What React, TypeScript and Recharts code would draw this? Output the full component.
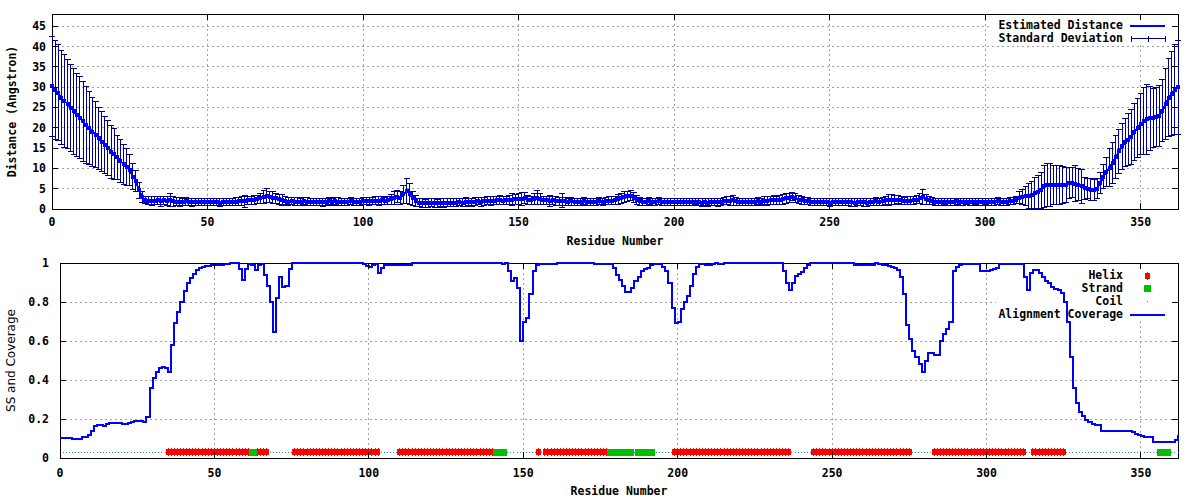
import React from "react";
import {
  ComposedChart,
  Line,
  Scatter,
  XAxis,
  YAxis,
  CartesianGrid,
  ErrorBar,
  Legend,
  ReferenceArea,
} from "recharts";

// estimated distance per residue (Angstrom)
const distance = [
  30.2, 29.3, 28.6, 27.4, 26.6, 25.8, 24.8, 24.1, 23.2, 22.5,
  21.6, 20.7, 19.9, 19.0, 18.3, 17.4, 16.6, 15.7, 15.0, 14.1,
  13.5, 12.7, 11.9, 11.0, 10.3, 9.5, 8.0, 6.8, 4.6, 3.0,
  2.3, 2.0, 1.9, 2.0, 2.1, 1.9, 2.2, 2.0, 2.1, 1.9,
  1.8, 1.8, 1.7, 1.9, 1.8, 1.7, 1.8, 1.8, 1.7, 1.8,
  1.8, 1.7, 1.8, 1.7, 1.6, 1.7, 1.7, 1.8, 1.7, 1.8,
  1.9, 2.0, 1.9, 2.2, 2.1, 2.3, 2.4, 2.6, 3.0, 3.3,
  3.0, 2.8, 2.6, 2.4, 2.2, 2.0, 1.8, 1.9, 1.8, 1.8,
  1.8, 1.9, 1.8, 1.8, 1.7, 1.8, 1.8, 1.7, 1.8, 1.9,
  1.8, 1.9, 1.8, 1.7, 1.8, 1.8, 1.9, 1.8, 1.7, 1.8,
  1.9, 2.0, 1.9, 2.0, 2.0, 1.9, 2.1, 2.0, 2.1, 2.4,
  2.8, 3.0, 2.7, 3.6, 4.4, 3.8, 2.6, 2.0, 1.6, 1.5,
  1.4, 1.4, 1.5, 1.4, 1.4, 1.5, 1.4, 1.5, 1.5, 1.6,
  1.6, 1.7, 1.6, 1.7, 1.8, 1.7, 1.8, 1.9, 1.8, 1.9,
  2.0, 1.9, 2.0, 2.1, 2.2, 2.0, 2.1, 2.2, 2.3, 2.4,
  2.4, 2.5, 2.7, 2.3, 2.2, 2.5, 2.8, 2.5, 2.2, 2.1,
  2.0, 2.1, 2.0, 1.9, 2.0, 1.9, 1.8, 1.9, 1.8, 1.8,
  1.8, 1.9, 1.8, 1.8, 1.7, 1.8, 1.9, 1.8, 1.9, 2.0,
  2.0, 2.2, 2.4, 2.6, 2.9, 3.1, 3.3, 2.8, 2.3, 1.9,
  1.8, 1.8, 1.9, 1.8, 1.8, 1.9, 1.8, 1.7, 1.8, 1.8,
  1.8, 1.7, 1.8, 1.7, 1.8, 1.8, 1.7, 1.8, 1.7, 1.6,
  1.7, 1.6, 1.7, 1.8, 1.7, 1.8, 1.9, 2.0, 2.0, 2.1,
  1.9, 1.8, 1.7, 1.8, 1.7, 1.8, 1.8, 1.9, 1.8, 2.0,
  2.0, 2.1, 2.2, 2.1, 2.3, 2.4, 2.6, 2.8, 3.0, 2.7,
  2.3, 2.1, 2.0, 1.9, 1.8, 1.8, 1.7, 1.8, 1.8, 1.7,
  1.6, 1.7, 1.7, 1.8, 1.7, 1.8, 1.8, 1.7, 1.6, 1.7,
  1.8, 1.7, 1.6, 1.7, 1.8, 1.9, 1.8, 1.9, 2.1, 2.2,
  2.3, 2.2, 2.3, 2.1, 2.0, 2.0, 2.0, 2.1, 2.3, 2.6,
  2.9, 2.4, 2.1, 1.9, 1.8, 1.8, 1.7, 1.8, 1.7, 1.8,
  1.8, 1.9, 1.8, 1.7, 1.8, 1.8, 1.7, 1.8, 1.8, 1.7,
  1.8, 1.8, 1.7, 1.8, 1.9, 1.8, 1.7, 1.8, 1.9, 2.0,
  2.2, 2.8, 3.0, 3.2, 3.2, 3.4, 3.9, 4.2, 4.6, 5.6,
  5.9, 5.9, 5.9, 5.8, 5.9, 5.9, 6.0, 6.3, 6.5, 6.2,
  6.0, 5.6, 5.1, 5.0, 4.8, 4.6, 5.0, 6.4, 8.0, 9.2,
  10.2, 11.4, 12.8, 14.2, 15.4, 16.4, 17.1, 17.8, 19.0, 20.0,
  20.9, 21.7, 22.1, 22.3, 22.4, 22.6, 22.9, 24.2, 25.8, 27.4,
  28.4, 29.4, 30.0,
];

// standard deviation per residue
const deviation = [
  12.3, 12.2, 11.8, 11.6, 11.5, 11.0, 10.7, 10.6, 10.2, 10.0,
  9.8, 9.5, 9.0, 8.5, 8.1, 7.6, 7.3, 7.0, 6.8, 6.5,
  6.3, 5.4, 5.3, 5.0, 4.6, 3.8, 3.3, 2.6, 2.0, 1.4,
  0.9, 1.0, 1.1, 1.0, 1.1, 1.3, 1.0, 1.1, 1.6, 1.2,
  1.0, 1.1, 0.9, 1.0, 0.9, 1.0, 0.9, 0.9, 0.9, 0.9,
  0.9, 0.9, 0.9, 0.9, 0.9, 0.8, 0.9, 0.9, 0.9, 1.0,
  1.0, 1.1, 1.5, 1.0, 0.9, 1.1, 1.0, 1.2, 1.6, 1.8,
  1.3, 1.4, 1.3, 1.2, 1.3, 1.0, 1.0, 0.9, 1.0, 1.0,
  0.9, 0.9, 1.0, 0.9, 0.9, 0.9, 0.9, 1.0, 0.9, 0.9,
  0.9, 0.9, 1.0, 0.9, 0.9, 0.9, 0.9, 0.9, 0.8, 0.9,
  0.9, 0.9, 1.0, 0.9, 1.0, 1.1, 0.9, 0.9, 1.0, 1.2,
  1.6, 1.5, 1.5, 2.3, 3.1, 2.6, 1.7, 1.3, 1.0, 1.1,
  1.0, 1.1, 1.0, 1.1, 1.0, 1.0, 1.1, 1.0, 1.0, 0.9,
  1.0, 0.9, 1.0, 1.1, 0.9, 1.0, 1.0, 0.9, 1.1, 1.0,
  1.0, 1.1, 1.0, 1.1, 1.2, 1.0, 1.1, 1.2, 1.4, 1.2,
  1.3, 1.6, 1.3, 1.1, 1.0, 1.4, 1.8, 1.4, 1.0, 1.1,
  1.4, 1.0, 1.1, 1.0, 1.7, 1.0, 0.9, 1.0, 0.9, 0.9,
  0.9, 0.9, 0.9, 0.9, 0.9, 0.9, 0.9, 0.9, 0.9, 1.0,
  1.0, 1.0, 1.2, 1.3, 1.4, 1.3, 1.3, 1.3, 1.1, 1.0,
  0.9, 0.9, 0.9, 0.9, 0.9, 0.9, 0.9, 0.9, 0.9, 0.9,
  0.9, 0.9, 0.9, 0.9, 0.9, 0.9, 0.9, 0.8, 0.9, 0.9,
  0.8, 0.9, 0.8, 0.9, 1.0, 0.9, 0.9, 1.0, 1.1, 1.2,
  1.0, 0.9, 0.9, 0.9, 0.9, 0.9, 0.9, 0.9, 0.9, 1.0,
  1.1, 1.0, 1.1, 1.0, 1.1, 1.2, 1.2, 1.1, 1.0, 1.1,
  1.0, 1.0, 0.9, 0.9, 0.9, 0.9, 0.8, 0.9, 0.9, 0.9,
  0.9, 0.9, 0.9, 0.9, 0.9, 0.9, 0.9, 1.0, 1.1, 0.9,
  0.9, 1.0, 1.1, 0.9, 0.9, 1.0, 0.9, 1.0, 1.1, 1.4,
  1.2, 1.1, 1.0, 1.1, 0.9, 1.0, 1.0, 0.9, 1.0, 1.3,
  1.8, 1.2, 1.0, 0.9, 0.9, 0.9, 0.9, 0.8, 0.9, 0.9,
  0.9, 0.8, 0.9, 0.9, 0.8, 0.9, 0.9, 0.8, 0.9, 0.9,
  0.8, 0.9, 0.9, 0.9, 0.9, 0.9, 0.8, 0.9, 0.9, 0.8,
  0.9, 1.4, 1.8, 2.4, 3.0, 3.4, 3.8, 4.0, 4.4, 5.2,
  5.4, 5.3, 4.9, 4.8, 4.8, 4.6, 4.3, 3.8, 3.6, 4.4,
  4.0, 4.2, 2.7, 2.4, 2.6, 2.6, 2.4, 2.6, 3.0, 3.6,
  4.6, 5.0, 5.2, 5.4, 5.6, 6.0, 6.5, 6.8, 7.0, 7.2,
  7.6, 8.2, 8.6, 7.8, 7.2, 7.3, 7.4, 7.6, 8.8, 9.6,
  10.4, 11.0, 11.6,
];

// alignment coverage per residue, lower panel
const coverage = [
  0.105, 0.105, 0.105, 0.105, 0.1, 0.1, 0.1, 0.108, 0.11, 0.118,
  0.14, 0.165, 0.168, 0.168, 0.162, 0.175, 0.182, 0.182, 0.182, 0.178,
  0.176, 0.176, 0.18, 0.186, 0.188, 0.19, 0.188, 0.185, 0.21, 0.36,
  0.41, 0.44, 0.46, 0.465, 0.462, 0.44, 0.58, 0.69, 0.75, 0.8,
  0.855, 0.9, 0.925, 0.945, 0.965, 0.974, 0.98, 0.986, 0.987, 0.988,
  0.989, 0.99, 0.992, 0.994, 0.996, 0.998, 1, 0.998, 0.97, 0.915,
  0.97, 0.995, 0.99, 0.965, 0.99, 0.995, 0.94, 0.88, 0.8, 0.645,
  0.82, 0.93, 0.875, 0.88, 0.97, 1, 1, 1, 1, 1,
  1, 1, 1, 1, 1, 1, 1, 1, 1, 1,
  1, 1, 1, 1, 1, 1, 1, 1, 0.995, 0.985,
  0.978, 0.99, 0.995, 0.948, 0.974, 0.99, 0.99, 0.99, 0.99, 0.99,
  0.99, 0.99, 0.99, 0.99, 1, 1, 1, 1, 1, 1,
  1, 1, 1, 1, 1, 1, 1, 1, 1, 1,
  1, 1, 1, 1, 1, 1, 1, 1, 1, 1,
  1, 1, 1, 0.995, 1, 0.957, 0.91, 0.925, 0.87, 0.6,
  0.7, 0.72, 0.84, 0.96, 0.99, 0.995, 0.995, 0.995, 0.995, 0.995,
  0.995, 1, 1, 1, 1, 1, 1, 1, 1, 1,
  1, 1, 1, 0.995, 0.995, 0.995, 0.995, 0.995, 0.995, 0.974,
  0.94, 0.914, 0.88, 0.852, 0.85, 0.87, 0.906, 0.93, 0.96, 0.97,
  0.974, 0.99, 0.995, 0.995, 0.995, 0.98, 0.96, 0.9, 0.77, 0.69,
  0.7, 0.765, 0.8, 0.83, 0.88, 0.945, 0.98, 0.993, 0.995, 0.988,
  0.99, 0.995, 1, 0.995, 0.995, 1, 1, 1, 1, 1,
  1, 1, 1, 1, 1, 1, 1, 1, 1, 1,
  1, 1, 1, 1, 0.96, 0.9, 0.863, 0.9, 0.935, 0.945,
  0.955, 0.975, 0.99, 1, 1, 1, 1, 1, 1, 1,
  1, 1, 1, 1, 1, 1, 1, 0.99, 0.99, 0.99,
  0.99, 0.99, 0.99, 0.99, 1, 0.995, 0.99, 0.988, 0.985, 0.978,
  0.972, 0.966, 0.93, 0.84, 0.68, 0.61, 0.55, 0.52, 0.48, 0.44,
  0.5, 0.54, 0.54, 0.53, 0.53, 0.6, 0.635, 0.66, 0.7, 0.96,
  0.98, 0.99, 0.995, 0.995, 0.995, 0.995, 0.995, 0.995, 0.96, 0.957,
  0.957, 0.962, 0.968, 0.972, 0.995, 0.995, 0.995, 0.995, 0.995, 0.995,
  0.995, 0.995, 0.93, 0.86, 0.95, 0.966, 0.966, 0.95, 0.93, 0.91,
  0.895, 0.875, 0.868, 0.862, 0.846, 0.8, 0.7, 0.52, 0.36, 0.28,
  0.235, 0.215, 0.195, 0.185, 0.172, 0.171, 0.171, 0.14, 0.137, 0.137,
  0.137, 0.137, 0.137, 0.137, 0.137, 0.137, 0.137, 0.133, 0.125, 0.118,
  0.111, 0.108, 0.106, 0.106, 0.08, 0.08, 0.08, 0.08, 0.08, 0.08,
  0.08, 0.09, 0.12,
];

// secondary structure segments (first, last residue)
const helixRanges: [number, number][] = [
  [35, 61], [64, 67], [76, 103], [110, 140], [155, 155], [157, 177],
  [199, 236], [244, 275], [283, 312], [315, 325],
];
const strandRanges: [number, number][] = [
  [62, 63], [141, 144], [178, 185], [187, 192], [356, 359],
];

const residueTicks = [0, 50, 100, 150, 200, 250, 300, 350];
const distanceTicks = [0, 5, 10, 15, 20, 25, 30, 35, 40, 45];
const coverageTicks = [0, 0.2, 0.4, 0.6, 0.8, 1];
const SS_LEVEL = 0.03;
const LAST_RESIDUE = 362;

const distData = distance.map((d, i) => ({ x: i, d, sd: deviation[i] }));
const covData = coverage.map((c, i) => ({ x: i, c }));
const inRanges = (i: number, ranges: [number, number][]) =>
  ranges.some(([a, b]) => i >= a && i <= b);
const helixData = covData
  .filter((p) => inRanges(p.x, helixRanges))
  .map((p) => ({ x: p.x, y: SS_LEVEL }));
const strandData = covData
  .filter((p) => inRanges(p.x, strandRanges))
  .map((p) => ({ x: p.x, y: SS_LEVEL }));
const coilData = covData
  .filter((p) => !inRanges(p.x, helixRanges) && !inRanges(p.x, strandRanges))
  .map((p) => ({ x: p.x, y: SS_LEVEL }));

const MONO = '"DejaVu Sans Mono", "Liberation Mono", monospace';
const monoText = { fontFamily: MONO, fontWeight: 700, fontSize: 11.5, fill: "#000" };
const GRID = "#a0a0a0";
const BLUE = "#0000ff";
const NAVY = "#000090";

// layout of the two panels
const W = 1200;
const H = 250;
const TOP = { left: 52, right: 1178, top: 14, bottom: 209 };
const BOT = { left: 60, right: 1178, top: 13, bottom: 208 };
const topKeyBox = { left: 990, right: 1172, top: 18, bottom: 45 };
const botKeyBox = { left: 996, right: 1172, top: 17, bottom: 71 };

// grid lines are not drawn behind the key
const cutGrid = (box: typeof topKeyBox) => (props: any) => {
  let { x1, y1, x2, y2 } = props;
  if (y1 === y2 && y1 > box.top && y1 < box.bottom) x2 = Math.min(x2, box.left);
  if (x1 === x2 && x1 > box.left && x1 < box.right) y1 = Math.max(y1, box.bottom);
  return (
    <line
      key={`g-${props.x1}-${props.y1}`}
      x1={x1}
      y1={y1}
      x2={x2}
      y2={y2}
      stroke={GRID}
      strokeDasharray="2 3"
    />
  );
};

function XTick(props: any) {
  const { x, y, payload, plotTop, dy } = props;
  return (
    <g>
      <line x1={x} y1={y} x2={x} y2={y - 6} stroke="#000" />
      <line x1={x} y1={plotTop} x2={x} y2={plotTop + 6} stroke="#000" />
      <text x={x} y={y + dy} textAnchor="middle" dominantBaseline="central" style={monoText}>
        {payload.value}
      </text>
    </g>
  );
}

function YTick(props: any) {
  const { x, y, payload, plotRight, gap } = props;
  return (
    <g>
      <line x1={x} y1={y} x2={x + 6} y2={y} stroke="#000" />
      <line x1={plotRight - 6} y1={y} x2={plotRight} y2={y} stroke="#000" />
      <text x={x - gap} y={y} textAnchor="end" dominantBaseline="central" style={monoText}>
        {payload.value}
      </text>
    </g>
  );
}

function Title(props: any) {
  const { px, py, title, vertical, sans } = props;
  const style = sans
    ? { fontFamily: '"DejaVu Sans", sans-serif', fontSize: 12, fill: "#000" }
    : monoText;
  return (
    <text
      x={px}
      y={py}
      textAnchor="middle"
      dominantBaseline="central"
      transform={vertical ? `rotate(-90 ${px} ${py})` : undefined}
      style={style}
    >
      {title}
    </text>
  );
}

function KeyRow({ label, children }: { label: string; children: React.ReactNode }) {
  return (
    <div style={{ display: "flex", alignItems: "center", height: 13 }}>
      <span
        style={{
          width: 133,
          textAlign: "right",
          whiteSpace: "pre",
          fontFamily: MONO,
          fontWeight: 700,
          fontSize: 11.5,
          lineHeight: "13px",
          color: "#000",
        }}
      >
        {label}
      </span>
      <svg width={45} height={13} style={{ display: "block" }}>
        {children}
      </svg>
    </div>
  );
}

function DistanceKey() {
  return (
    <div>
      <KeyRow label="Estimated Distance">
        <line x1={7} y1={6.5} x2={42} y2={6.5} stroke={BLUE} strokeWidth={2} />
      </KeyRow>
      <KeyRow label="Standard Deviation">
        <line x1={8} y1={6.5} x2={42} y2={6.5} stroke={NAVY} />
        <line x1={8} y1={3.5} x2={8} y2={9.5} stroke={NAVY} />
        <line x1={25} y1={3.5} x2={25} y2={9.5} stroke={NAVY} />
        <line x1={42} y1={3.5} x2={42} y2={9.5} stroke={NAVY} />
      </KeyRow>
    </div>
  );
}

function CoverageKey() {
  return (
    <div>
      <KeyRow label="Helix">
        <rect x={22} y={3.5} width={4.5} height={6} fill="#ff0000" />
        <line x1={24} y1={2.5} x2={24} y2={10.5} stroke="#ff0000" />
      </KeyRow>
      <KeyRow label="Strand">
        <rect x={21} y={3} width={7} height={7} fill="#00c000" />
      </KeyRow>
      <KeyRow label="Coil">
        <rect x={24} y={6} width={1} height={1} fill="#2080e0" />
      </KeyRow>
      <KeyRow label="Alignment Coverage">
        <line x1={7} y1={6.5} x2={42} y2={6.5} stroke={BLUE} strokeWidth={2} />
      </KeyRow>
    </div>
  );
}

const HelixMark = (p: any) => (
  <g>
    <rect x={p.cx - 2.3} y={p.cy - 3} width={4.6} height={6} fill="#ff0000" />
    <line x1={p.cx} y1={p.cy - 4} x2={p.cx} y2={p.cy + 4} stroke="#ff0000" />
  </g>
);
const StrandMark = (p: any) => (
  <rect x={p.cx - 2.3} y={p.cy - 3.5} width={4.6} height={7} fill="#00c000" />
);
const CoilMark = (p: any) => (
  <rect x={p.cx - 0.5} y={p.cy - 0.5} width={1} height={1} fill="#2080e0" />
);

const SquareDot = (p: any) => (
  <rect key={`dot-${p.index}`} x={p.cx - 2} y={p.cy - 2} width={4} height={4} fill={BLUE} />
);

function DistancePanel() {
  return (
    <ComposedChart
      width={W}
      height={H}
      data={distData}
      margin={{ top: TOP.top, right: W - TOP.right, bottom: 0, left: 0 }}
    >
      <CartesianGrid horizontal={cutGrid(topKeyBox)} vertical={cutGrid(topKeyBox)} />
      <XAxis
        dataKey="x"
        type="number"
        domain={[0, LAST_RESIDUE]}
        ticks={residueTicks}
        interval={0}
        height={H - TOP.bottom}
        axisLine={false}
        tickLine={false}
        tickSize={0}
        tickMargin={0}
        tick={<XTick plotTop={TOP.top} dy={12.5} />}
        label={<Title px={(TOP.left + TOP.right) / 2} py={241} title="Residue Number" />}
      />
      <YAxis
        type="number"
        domain={[0, 48]}
        ticks={distanceTicks}
        interval={0}
        width={TOP.left}
        axisLine={false}
        tickLine={false}
        tickSize={0}
        tickMargin={0}
        tick={<YTick plotRight={TOP.right} gap={6} />}
        label={
          <Title px={12} py={(TOP.top + TOP.bottom) / 2} title="Distance (Angstron)" vertical />
        }
      />
      <Line
        dataKey="d"
        type="linear"
        stroke={BLUE}
        strokeWidth={2}
        dot={SquareDot}
        activeDot={false}
        isAnimationActive={false}
      >
        <ErrorBar dataKey="sd" width={3} stroke={NAVY} strokeWidth={1} direction="y" />
      </Line>
      <ReferenceArea
        x1={0}
        x2={LAST_RESIDUE}
        y1={0}
        y2={48}
        fill="none"
        stroke="#000"
        strokeWidth={1}
      />
      <Legend
        layout="vertical"
        align="center"
        verticalAlign="middle"
        wrapperStyle={{ left: topKeyBox.left, top: 19, width: 180 }}
        content={() => <DistanceKey />}
      />
    </ComposedChart>
  );
}

function CoveragePanel() {
  return (
    <ComposedChart
      width={W}
      height={H}
      data={covData}
      margin={{ top: BOT.top, right: W - BOT.right, bottom: 0, left: 0 }}
    >
      <CartesianGrid horizontal={cutGrid(botKeyBox)} vertical={cutGrid(botKeyBox)} />
      <XAxis
        dataKey="x"
        type="number"
        domain={[0, LAST_RESIDUE]}
        ticks={residueTicks}
        interval={0}
        height={H - BOT.bottom}
        axisLine={false}
        tickLine={false}
        tickSize={0}
        tickMargin={0}
        tick={<XTick plotTop={BOT.top} dy={14.5} />}
        label={<Title px={(BOT.left + BOT.right) / 2} py={241} title="Residue Number" />}
      />
      <YAxis
        type="number"
        domain={[0, 1]}
        ticks={coverageTicks}
        interval={0}
        width={BOT.left}
        axisLine={false}
        tickLine={false}
        tickSize={0}
        tickMargin={0}
        tick={<YTick plotRight={BOT.right} gap={11} />}
        label={
          <Title px={11} py={(BOT.top + BOT.bottom) / 2} title="SS and Coverage" vertical sans />
        }
      />
      <Scatter data={coilData} dataKey="y" shape={CoilMark} isAnimationActive={false} />
      <Scatter data={helixData} dataKey="y" shape={HelixMark} isAnimationActive={false} />
      <Scatter data={strandData} dataKey="y" shape={StrandMark} isAnimationActive={false} />
      <Line
        dataKey="c"
        type="stepAfter"
        stroke={BLUE}
        strokeWidth={2}
        dot={false}
        activeDot={false}
        isAnimationActive={false}
      />
      <ReferenceArea
        x1={0}
        x2={LAST_RESIDUE}
        y1={0}
        y2={1}
        fill="none"
        stroke="#000"
        strokeWidth={1}
      />
      <Legend
        layout="vertical"
        align="center"
        verticalAlign="middle"
        wrapperStyle={{ left: topKeyBox.left, top: 18.5, width: 180 }}
        content={() => <CoverageKey />}
      />
    </ComposedChart>
  );
}

export default function App() {
  return (
    <div
      style={{
        position: "absolute",
        left: 0,
        top: 0,
        width: W,
        height: 2 * H,
        background: "#fff",
        shapeRendering: "crispEdges",
      }}
    >
      <div style={{ position: "absolute", left: 0, top: 0 }}>
        <DistancePanel />
      </div>
      <div style={{ position: "absolute", left: 0, top: H }}>
        <CoveragePanel />
      </div>
    </div>
  );
}
